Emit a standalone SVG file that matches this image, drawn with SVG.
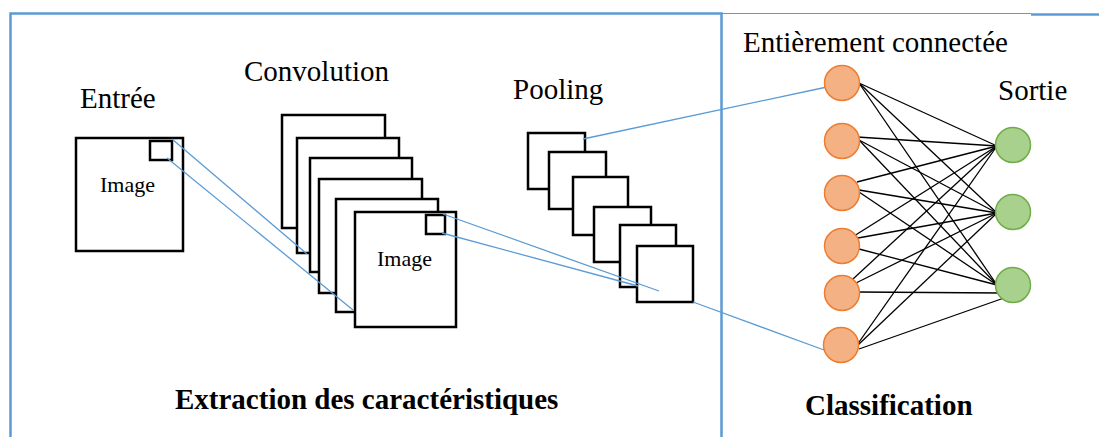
<svg xmlns="http://www.w3.org/2000/svg" width="1099" height="437" viewBox="0 0 1099 437">
<style>
.t{font-family:"Liberation Serif","Times New Roman",serif;fill:#000}
.lbl{font-size:29px}
.img{font-size:22px}
.b{font-size:29px;font-weight:bold}
.box{fill:#fff;stroke:#000;stroke-width:2.5}
.blue{stroke:#5B9BD5;stroke-width:1.3;fill:none}
.frame{stroke:#5B9BD5;fill:none}
.fc{stroke:#000;stroke-width:1.3}
.or{fill:#F4B183;stroke:#ED7D31;stroke-width:1.5}
.gr{fill:#A9D18E;stroke:#70AD47;stroke-width:1.5}
</style>
<rect width="1099" height="437" fill="#fff"/>
<g id="frame">
<path class="frame" stroke-width="2.5" d="M10.5,437 V13.5 H721.5 V437"/>
<path class="frame" stroke-width="1" d="M721.5,13.5 H1031"/>
<path class="frame" stroke-width="2.5" d="M1031,14.5 H1099"/>
</g>
<g id="entree">
<text class="t lbl" x="80" y="108">Entrée</text>
<rect class="box" x="76" y="138" width="107" height="113"/>
<rect class="box" x="150" y="141" width="22" height="19"/>
<text class="t img" x="100" y="192">Image</text>
</g>
<g id="convolution">
<text class="t lbl" x="244" y="81">Convolution</text>
<rect class="box" x="282" y="115" width="103" height="113"/>
<rect class="box" x="297" y="138" width="102" height="115"/>
<rect class="box" x="310" y="158" width="102" height="114"/>
<rect class="box" x="319" y="179" width="103" height="114"/>
<rect class="box" x="336" y="199" width="102" height="113"/>
<rect class="box" x="355" y="212" width="101" height="115"/>
<rect class="box" x="426" y="215" width="19" height="19"/>
<text class="t img" x="377" y="266">Image</text>
</g>
<g id="pooling">
<text class="t lbl" x="513" y="99">Pooling</text>
<rect class="box" x="528" y="133" width="57" height="56"/>
<rect class="box" x="549" y="152" width="57" height="57"/>
<rect class="box" x="573" y="177" width="55" height="58"/>
<rect class="box" x="594" y="207" width="57" height="55"/>
<rect class="box" x="620" y="225" width="56" height="62"/>
<rect class="box" x="637" y="246" width="56" height="56"/>
</g>
<g id="connectors">
<line class="blue" x1="172" y1="139" x2="307" y2="254"/>
<line class="blue" x1="167" y1="158" x2="353" y2="310"/>
<line class="blue" x1="443" y1="214" x2="659" y2="291"/>
<line class="blue" x1="442" y1="233" x2="638" y2="286"/>
<line class="blue" x1="583" y1="139" x2="827" y2="87"/>
<line class="blue" x1="693" y1="302" x2="824" y2="350"/>
<g class="fc">
<line x1="859" y1="83" x2="997" y2="146"/><line x1="859" y1="83" x2="997" y2="213"/><line x1="859" y1="83" x2="997" y2="285"/>
<line x1="857" y1="137" x2="997" y2="146"/><line x1="859" y1="140" x2="997" y2="213"/><line x1="859" y1="140" x2="997" y2="285"/>
<line x1="857" y1="182" x2="997" y2="146"/><line x1="859" y1="190" x2="997" y2="213"/><line x1="859" y1="192" x2="997" y2="285"/>
<line x1="854" y1="236" x2="997" y2="146"/><line x1="858" y1="238" x2="997" y2="213"/><line x1="859" y1="249" x2="997" y2="285"/>
<line x1="853" y1="279" x2="997" y2="146"/><line x1="856" y1="283" x2="997" y2="213"/><line x1="857" y1="292" x2="1001" y2="293"/>
<line x1="857" y1="345" x2="997" y2="146"/><line x1="858" y1="345" x2="997" y2="213"/><line x1="859" y1="349" x2="1004" y2="298"/>
</g>
</g>
<g id="fc-layer">
<text class="t lbl" x="743" y="52">Entièrement connectée</text>
<circle class="or" cx="842" cy="83" r="17.5"/>
<circle class="or" cx="842" cy="141" r="17.5"/>
<circle class="or" cx="842" cy="193" r="17.5"/>
<circle class="or" cx="842" cy="246" r="17.5"/>
<circle class="or" cx="842" cy="293" r="17.5"/>
<circle class="or" cx="841" cy="345" r="17.5"/>
</g>
<g id="sortie">
<text class="t lbl" x="998" y="100">Sortie</text>
<circle class="gr" cx="1013" cy="145" r="17.5"/>
<circle class="gr" cx="1013" cy="212" r="17.5"/>
<circle class="gr" cx="1013" cy="285" r="17.5"/>
</g>
<g id="captions">
<text class="t b" x="175" y="409">Extraction des caractéristiques</text>
<text class="t b" x="805" y="415">Classification</text>
</g>
</svg>
